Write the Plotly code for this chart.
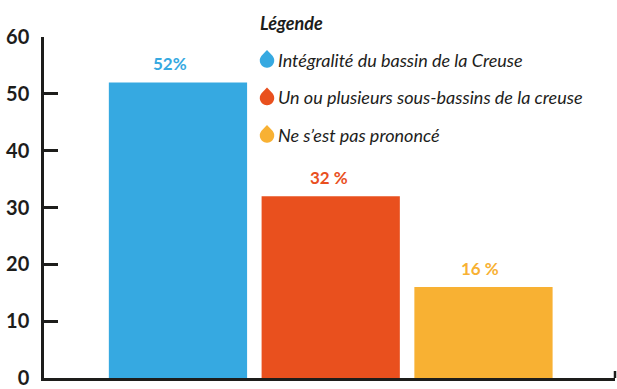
import numpy as np
import plotly.graph_objects as go

# Survey answers and their share of respondents (%)
categories = [
    "Intégralité du bassin de la Creuse",
    "Un ou plusieurs sous-bassins de la creuse",
    "Ne s’est pas prononcé",
]
values = [52, 32, 16]
value_labels = ["52%", "32 %", "16 %"]
colors = ["#36A9E1", "#E9501E", "#F8B133"]
y_ticks = [0, 10, 20, 30, 40, 50, 60]

# horizontal nudges for the value labels (px)
label_xshift = [-8, -2, -3]

W, H = 617, 389
ML, MR, MT, MB = 44, 2, 37, 11
PW, PH = W - ML - MR, H - MT - MB

fig = go.Figure()
fig.add_trace(go.Bar(
    x=categories, y=values, marker=dict(color=colors, line=dict(width=0)),
    showlegend=False, hoverinfo="skip",
))

# value labels above each bar
for cat, v, lab, col, dx in zip(categories, values, value_labels, colors, label_xshift):
    fig.add_annotation(
        x=cat, y=v, text=lab, showarrow=False, yanchor="middle", yshift=19, xshift=dx,
        font=dict(family="Lato", size=17, color=col, weight="bold"),
    )


def px_to_paper(px, py):
    return (px - ML) / PW, (H - MB - py) / PH


def drop_path(cx, cy, r, tip):
    # water-drop outline: round bottom with a pointed top
    a0 = np.arcsin(r / tip)
    ang = np.linspace(-np.pi / 2 + (np.pi / 2 - a0), 3 * np.pi / 2 - (np.pi / 2 - a0), 40)
    pts = [(cx, cy - tip)]
    for t in ang:
        pts.append((cx + r * np.cos(t), cy + r * np.sin(t)))
    segs = []
    for i, (x, y) in enumerate(pts):
        xp, yp = px_to_paper(x, y)
        segs.append(("M" if i == 0 else "L") + f"{xp:.5f},{yp:.5f}")
    return " ".join(segs) + " Z"


# legend block
fig.add_annotation(
    x=px_to_paper(258, 0)[0], y=px_to_paper(0, 23)[1], xref="paper", yref="paper",
    text="<b><i>Légende</i></b>", showarrow=False, xanchor="left", yanchor="middle",
    font=dict(family="Lato", size=18, color="#1d1d1b"),
)
for i, (cat, col) in enumerate(zip(categories, colors)):
    ty = 60 + i * 37.5
    fig.add_shape(type="path", path=drop_path(267, ty + 0.5, 7.2, 10.5),
                  xref="paper", yref="paper", fillcolor=col, line=dict(width=0))
    fig.add_annotation(
        x=px_to_paper(276, 0)[0], y=px_to_paper(0, ty)[1], xref="paper", yref="paper",
        text=f"<i>{cat}</i>", showarrow=False, xanchor="left", yanchor="middle",
        font=dict(family="Lato", size=18, color="#1d1d1b"),
    )

# small upward tick closing the x axis on the right
x1 = px_to_paper(615, 0)[0]
fig.add_shape(type="line", xref="paper", yref="paper",
              x0=x1, x1=x1, y0=0, y1=px_to_paper(0, H - MB - 7)[1],
              line=dict(color="#1d1d1b", width=2.5))

fig.update_layout(
    width=W, height=H,
    margin=dict(l=ML, r=MR, t=MT, b=MB, autoexpand=False),
    paper_bgcolor="white", plot_bgcolor="white",
    bargap=0.095,
    xaxis=dict(
        range=[-0.877, 2.861], showticklabels=False, showgrid=False, zeroline=False,
        showline=True, linecolor="#1d1d1b", linewidth=2.5, ticks="", fixedrange=True,
    ),
    yaxis=dict(
        range=[0, 60], tickvals=y_ticks, showgrid=False, zeroline=False,
        showline=True, linecolor="#1d1d1b", linewidth=2.5,
        ticks="inside", ticklen=14, tickwidth=2.5, tickcolor="#1d1d1b",
        tickfont=dict(family="Lato", size=20, color="#1d1d1b", weight="bold"),
        ticklabelstandoff=8, automargin=False,
    ),
)

fig.write_html("out.html")
